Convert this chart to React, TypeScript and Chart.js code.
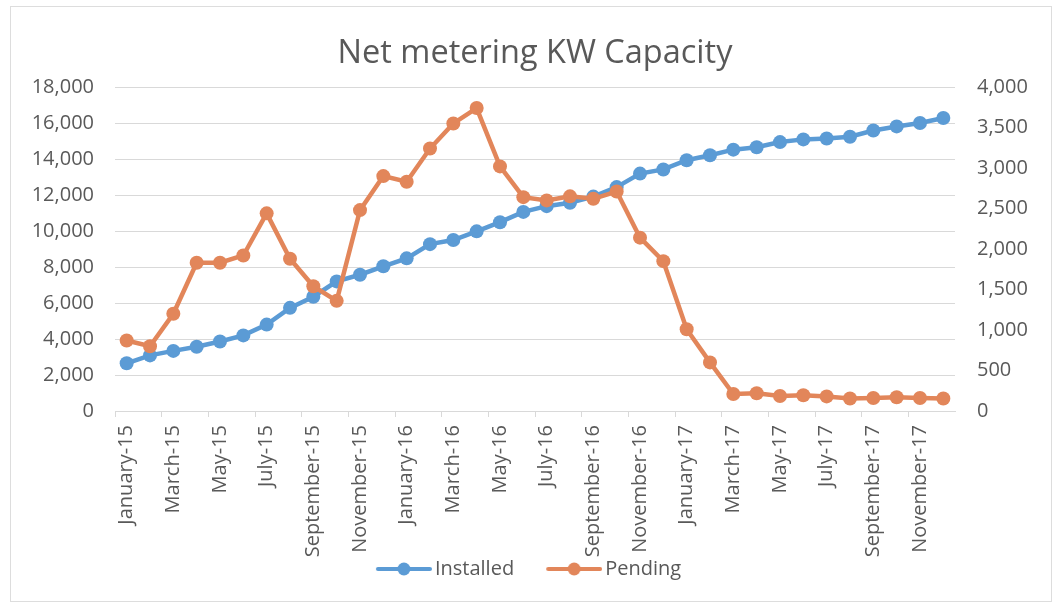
import { useEffect, useRef } from "react";
import { Chart, registerables } from "chart.js";

Chart.register(...registerables);

const months = [
  "January-15", "February-15", "March-15", "April-15", "May-15", "June-15",
  "July-15", "August-15", "September-15", "October-15", "November-15", "December-15",
  "January-16", "February-16", "March-16", "April-16", "May-16", "June-16",
  "July-16", "August-16", "September-16", "October-16", "November-16", "December-16",
  "January-17", "February-17", "March-17", "April-17", "May-17", "June-17",
  "July-17", "August-17", "September-17", "October-17", "November-17", "December-17",
];

const installed = [
  2650, 3090, 3340, 3570, 3860, 4200, 4800, 5730, 6350, 7200, 7570, 8040,
  8480, 9270, 9500, 9980, 10490, 11060, 11380, 11570, 11910, 12440, 13190, 13420,
  13930, 14210, 14520, 14650, 14940, 15090, 15140, 15240, 15580, 15810, 16000, 16280,
];

const pending = [
  870, 800, 1200, 1830, 1830, 1920, 2440, 1880, 1540, 1360, 2480, 2900,
  2830, 3240, 3550, 3740, 3020, 2640, 2600, 2650, 2620, 2710, 2140, 1850,
  1010, 600, 210, 220, 185, 195, 180, 155, 160, 170, 160, 155,
];

const titleText = "Net metering KW Capacity";
const seriesNames = ["Installed", "Pending"];
const leftMax = 18000;
const leftStep = 2000;
const rightMax = 4000;
const rightStep = 500;

const BLUE = "#5B9BD5";
const ORANGE = "#E2865A";
const TEXT = "#595959";
const GRID = "#D9D9D9";
const FONT = '"Open Sans", sans-serif';

// legend marker: a short line with a dot, drawn on the right part of a wider transparent image
const MARK_BOX = 75;
function legendMarker(color: string): HTMLCanvasElement {
  const c = document.createElement("canvas");
  c.width = MARK_BOX + 14;
  c.height = 16;
  const g = c.getContext("2d")!;
  const x0 = c.width - 56;
  g.strokeStyle = color;
  g.lineWidth = 4;
  g.lineCap = "round";
  g.beginPath();
  g.moveTo(x0 + 2, 8);
  g.lineTo(x0 + 54, 8);
  g.stroke();
  g.fillStyle = color;
  g.beginPath();
  g.arc(x0 + 28, 8, 6.5, 0, Math.PI * 2);
  g.fill();
  return c;
}

const fmt = (v: number) => Number(v).toLocaleString("en-US");

export default function App() {
  const ref = useRef<HTMLCanvasElement | null>(null);

  useEffect(() => {
    if (!ref.current) return;
    const borderPlugin = {
      id: "frame",
      beforeDraw(chart: any) {
        const ctx = chart.ctx;
        ctx.save();
        ctx.fillStyle = "#ffffff";
        ctx.fillRect(0, 0, chart.width, chart.height);
        ctx.strokeStyle = "#DDDDDD";
        ctx.lineWidth = 1;
        ctx.strokeRect(10.5, 6.5, chart.width - 15, chart.height - 10);
        ctx.restore();
      },
    };

    const chart = new Chart(ref.current, {
      type: "line",
      data: {
        labels: months,
        datasets: [
          {
            label: seriesNames[0],
            data: installed,
            yAxisID: "y",
            borderColor: BLUE,
            backgroundColor: BLUE,
            pointBackgroundColor: BLUE,
            pointBorderColor: BLUE,
            borderWidth: 4.5,
            pointRadius: 7,
            pointBorderWidth: 0,
            order: 1,
          } as any,
          {
            label: seriesNames[1],
            data: pending,
            yAxisID: "y1",
            borderColor: ORANGE,
            backgroundColor: ORANGE,
            pointBackgroundColor: ORANGE,
            pointBorderColor: ORANGE,
            borderWidth: 4.5,
            pointRadius: 7,
            pointBorderWidth: 0,
            order: 0,
          } as any,
        ],
      },
      options: {
        animation: false,
        responsive: false,
        maintainAspectRatio: false,
        layout: { padding: { top: 0, bottom: 16, left: 0, right: 25 } },
        elements: { point: { pointStyle: "circle" } },
        plugins: {
          title: {
            display: true,
            fullSize: false,
            text: titleText,
            color: TEXT,
            font: { family: FONT, size: 32.5, weight: "normal" },
            padding: { top: 34, bottom: 14 },
          },
          legend: {
            display: true,
            position: "bottom",
            labels: {
              color: TEXT,
              font: { family: FONT, size: 20 },
              usePointStyle: true,
              pointStyleWidth: MARK_BOX,
              boxHeight: 16,
              padding: 6,
              generateLabels: () =>
                seriesNames.map((n, i) => ({
                  text: n,
                  pointStyle: legendMarker(i === 0 ? BLUE : ORANGE),
                  fillStyle: "transparent",
                  strokeStyle: "transparent",
                  lineWidth: 0,
                  fontColor: TEXT,
                  hidden: false,
                  datasetIndex: i,
                })) as any,
            },
          },
          tooltip: { enabled: false },
        },
        scales: {
          x: {
            offset: true,
            grid: {
              offset: true,
              drawOnChartArea: false,
              drawTicks: true,
              tickLength: 6,
              color: (c: any) => (c.index % 2 === 0 ? GRID : "transparent"),
            },
            border: { display: true, color: GRID },
            ticks: {
              autoSkip: false,
              maxRotation: 90,
              minRotation: 90,
              padding: 8,
              color: TEXT,
              font: { family: FONT, size: 20 },
              callback: (_v: any, i: number) => (i % 2 === 0 ? months[i] : ""),
            },
            afterFit: (s: any) => {
              s.paddingLeft = 0;
              s.paddingRight = 0;
              s.height = 142;
              // let the long rotated labels run past the axis box (as in the original)
              s._computeLabelArea = () => undefined;
            },
          },
          y: {
            position: "left",
            min: 0,
            max: leftMax,
            grid: { color: GRID, drawTicks: false },
            border: { display: false },
            ticks: {
              stepSize: leftStep,
              padding: 21,
              color: TEXT,
              font: { family: FONT, size: 20 },
              callback: (v: any) => fmt(v),
            },
            afterFit: (s: any) => {
              s.width = 115;
              s.paddingTop = 0;
              s.paddingBottom = 0;
            },
          },
          y1: {
            position: "right",
            min: 0,
            max: rightMax,
            grid: { drawOnChartArea: false, drawTicks: false },
            border: { display: false },
            ticks: {
              stepSize: rightStep,
              padding: 22,
              color: TEXT,
              font: { family: FONT, size: 20 },
              callback: (v: any) => fmt(v),
            },
            afterFit: (s: any) => {
              s.width = 1056 - 25 - 955;
              s.paddingTop = 0;
              s.paddingBottom = 0;
            },
          },
        },
      } as any,
      plugins: [borderPlugin],
    });
    return () => chart.destroy();
  }, []);

  return (
    <div style={{ position: "absolute", left: 0, top: 0, width: 1056, height: 605, background: "#fff" }}>
      <canvas ref={ref} width={1056} height={605} style={{ display: "block" }} />
    </div>
  );
}
